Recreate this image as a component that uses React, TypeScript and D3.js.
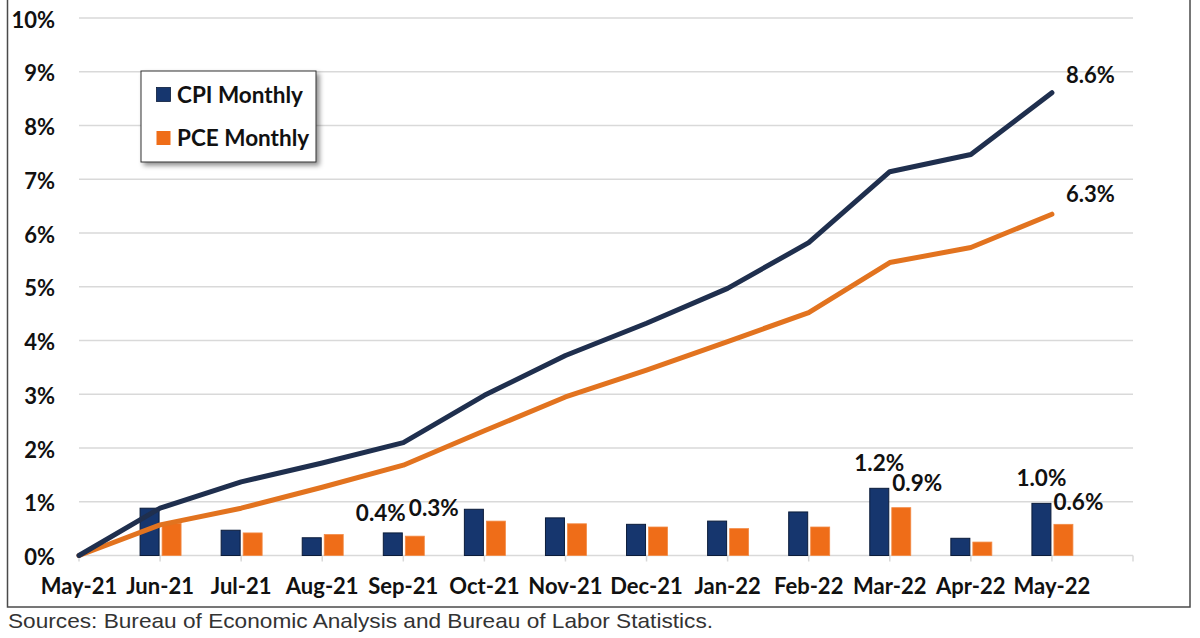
import React from "react";
import * as d3 from "d3";

const months = ["May-21", "Jun-21", "Jul-21", "Aug-21", "Sep-21", "Oct-21", "Nov-21", "Dec-21", "Jan-22", "Feb-22", "Mar-22", "Apr-22", "May-22"];
const cpiMonthly = [null, 0.88, 0.47, 0.33, 0.42, 0.86, 0.70, 0.58, 0.64, 0.81, 1.25, 0.32, 0.97];
const pceMonthly = [null, 0.60, 0.42, 0.39, 0.36, 0.64, 0.59, 0.53, 0.50, 0.53, 0.89, 0.25, 0.58];
const cpiCumulative = [0, 0.88, 1.37, 1.72, 2.10, 2.98, 3.72, 4.32, 4.97, 5.82, 7.14, 7.46, 8.61];
const pceCumulative = [0, 0.57, 0.88, 1.27, 1.68, 2.32, 2.95, 3.45, 3.98, 4.52, 5.45, 5.73, 6.35];
const yTicks = [0, 1, 2, 3, 4, 5, 6, 7, 8, 9, 10];
const barLabels = [
  { i: 4, series: "cpi", text: "0.4%" },
  { i: 4, series: "pce", text: "0.3%" },
  { i: 10, series: "cpi", text: "1.2%" },
  { i: 10, series: "pce", text: "0.9%" },
  { i: 12, series: "cpi", text: "1.0%" },
  { i: 12, series: "pce", text: "0.6%" },
];
const endLabels = { cpi: "8.6%", pce: "6.3%" };
const legendItems = ["CPI Monthly", "PCE Monthly"];
const sourceText = "Sources: Bureau of Economic Analysis and Bureau of Labor Statistics.";

const CPI_BAR = "#16366e";
const CPI_LINE = "#1f2f4e";
const PCE_BAR = "#ef6d18";
const PCE_LINE = "#e2731f";
const GRID = "#d9d9d9";
const FONT = "Lato, 'Open Sans', sans-serif";

// manual label offsets (dx, dy) relative to bar top-center
const labelOffsets: Record<string, [number, number]> = {
  "4-cpi": [-12, -20],
  "4-pce": [19, -28],
  "10-cpi": [0, -25],
  "10-pce": [16, -25],
  "12-cpi": [0, -25],
  "12-pce": [15, -22],
};

export default function App() {
  const x = d3.scaleLinear().domain([0, 13]).range([79, 1133]);
  const y = d3.scaleLinear().domain([0, 10]).range([555.5, 18]);
  const barW = 19;
  const cpiX = (i: number) => x(i) - 20;
  const pceX = (i: number) => x(i) + 2;

  const line = d3
    .line<number>()
    .x((_, i) => x(i))
    .y((d) => y(d));

  const tickIdx = d3.range(0, 14);

  return (
    <svg width={1200} height={638} style={{ position: "absolute", left: 0, top: 0, background: "#fff" }}>
      <defs>
        <filter id="shadow" x="-10%" y="-10%" width="130%" height="140%">
          <feDropShadow dx="3" dy="3" stdDeviation="2.5" floodColor="#000" floodOpacity="0.45" />
        </filter>
      </defs>
      <rect x={0} y={0} width={1200} height={638} fill="#fff" />
      {/* frame */}
      <rect x={7.5} y={-2} width={1182.5} height={609} fill="none" stroke="#4a4a4a" strokeWidth={1.5} />

      {/* gridlines */}
      {yTicks.map((t) => (
        <line key={t} x1={x(0)} x2={x(13)} y1={y(t)} y2={y(t)} stroke={GRID} strokeWidth={1.5} />
      ))}
      {/* x ticks */}
      {tickIdx.map((i) => (
        <line key={i} x1={x(i)} x2={x(i)} y1={y(0)} y2={y(0) + 6} stroke={GRID} strokeWidth={1.5} />
      ))}

      {/* y labels */}
      {yTicks.map((t) => (
        <text
          key={t}
          x={55}
          y={y(t) + 9.5}
          textAnchor="end"
          fontFamily={FONT}
          fontWeight="bold"
          fontSize={22}
          fill="#111"
        >
          {t}%
        </text>
      ))}

      {/* x labels */}
      {months.map((m, i) => (
        <text
          key={m}
          x={x(i)}
          y={594}
          textAnchor="middle"
          fontFamily={FONT}
          fontWeight="bold"
          fontSize={22}
          fill="#111"
        >
          {m}
        </text>
      ))}

      {/* bars */}
      {cpiMonthly.map((v, i) =>
        v == null ? null : (
          <rect
            key={"c" + i}
            x={cpiX(i)}
            y={y(v)}
            width={barW}
            height={y(0) - y(v)}
            fill={CPI_BAR}
            stroke="#0b1c3a"
            strokeWidth={1}
          />
        )
      )}
      {pceMonthly.map((v, i) =>
        v == null ? null : (
          <rect
            key={"p" + i}
            x={pceX(i)}
            y={y(v)}
            width={barW}
            height={y(0) - y(v)}
            fill={PCE_BAR}
            stroke="#f28a45"
            strokeWidth={0.8}
          />
        )
      )}

      {/* lines */}
      <path d={line(pceCumulative) || ""} fill="none" stroke={PCE_LINE} strokeWidth={5} strokeLinejoin="round" strokeLinecap="round" />
      <path d={line(cpiCumulative) || ""} fill="none" stroke={CPI_LINE} strokeWidth={5} strokeLinejoin="round" strokeLinecap="round" />

      {/* end labels */}
      <text
        x={x(12) + 14}
        y={y(cpiCumulative[12]) - 18 + 8}
        fontFamily={FONT}
        fontWeight="bold"
        fontSize={22}
        fill="#111"
      >
        {endLabels.cpi}
      </text>
      <text
        x={x(12) + 14}
        y={y(pceCumulative[12]) - 20 + 8}
        fontFamily={FONT}
        fontWeight="bold"
        fontSize={22}
        fill="#111"
      >
        {endLabels.pce}
      </text>

      {/* bar labels */}
      {barLabels.map((b) => {
        const v = (b.series === "cpi" ? cpiMonthly[b.i] : pceMonthly[b.i]) as number;
        const cx = (b.series === "cpi" ? cpiX(b.i) : pceX(b.i)) + barW / 2;
        const [dx, dy] = labelOffsets[`${b.i}-${b.series}`];
        return (
          <text
            key={b.i + b.series}
            x={cx + dx}
            y={y(v) + dy + 8}
            textAnchor="middle"
            fontFamily={FONT}
            fontWeight="bold"
            fontSize={22.5}
            fill="#111"
          >
            {b.text}
          </text>
        );
      })}

      {/* legend */}
      <g>
        <rect x={141} y={71} width={175} height={91} fill="#fff" stroke="#333" strokeWidth={1} filter="url(#shadow)" />
        <rect x={156.5} y={87.5} width={14} height={14} fill={CPI_BAR} stroke="#0b1c3a" strokeWidth={0.8} />
        <rect x={156.5} y={131} width={14} height={14} fill={PCE_BAR} />
        <text x={177} y={102.5} fontFamily={FONT} fontWeight="bold" fontSize={22.5} fill="#111">
          {legendItems[0]}
        </text>
        <text x={177} y={145.5} fontFamily={FONT} fontWeight="bold" fontSize={22.5} fill="#111">
          {legendItems[1]}
        </text>
      </g>

      {/* source */}
      <text
        x={8}
        y={628}
        fontFamily="'Liberation Sans', Arial, sans-serif"
        fontSize={21}
        fill="#333"
        textLength={705}
        lengthAdjust="spacingAndGlyphs"
      >
        {sourceText}
      </text>
    </svg>
  );
}
